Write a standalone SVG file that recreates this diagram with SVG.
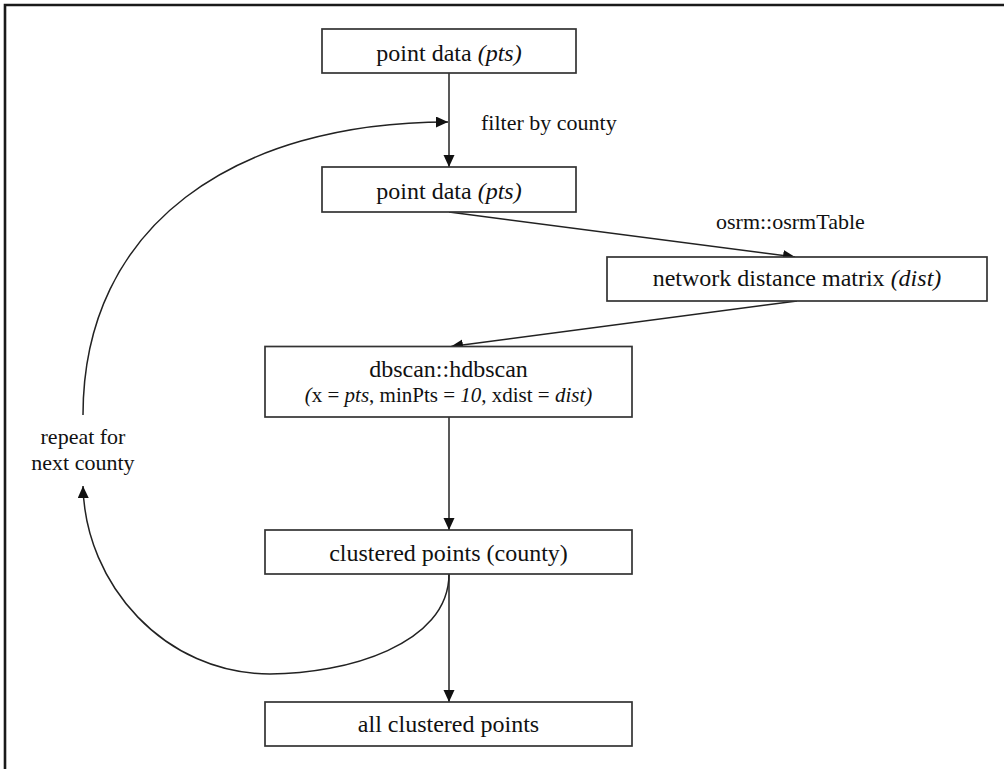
<svg xmlns="http://www.w3.org/2000/svg" width="1004" height="769" viewBox="0 0 1004 769">
<defs>
<style>
.box{fill:#fff;stroke:#333;stroke-width:1.7}
.t{font-family:"Liberation Serif","Times New Roman",serif;font-size:24px;fill:#111;text-anchor:middle}
.s{font-size:21px}
.lbl{font-family:"Liberation Serif","Times New Roman",serif;font-size:22px;fill:#111}
.i{font-style:italic}
.c{fill:none;stroke:#222;stroke-width:1.5}
</style>
<marker id="ah" markerUnits="userSpaceOnUse" markerWidth="13" markerHeight="12" refX="12" refY="5.5" orient="auto">
<path d="M0,0 L12,5.5 L0,11 z" fill="#111"/>
</marker>
</defs>
<rect width="1004" height="769" fill="#fff"/>
<polyline points="5,769 5,5 1004,5" fill="none" stroke="#1a1a1a" stroke-width="2.6"/>

<g id="connectors">
<line class="c" x1="449" y1="73" x2="449" y2="167" marker-end="url(#ah)"/>
<line class="c" x1="449" y1="212" x2="795" y2="257" marker-end="url(#ah)"/>
<line class="c" x1="797" y1="301" x2="451" y2="346.5" marker-end="url(#ah)"/>
<line class="c" x1="449" y1="417" x2="449" y2="530" marker-end="url(#ah)"/>
<line class="c" x1="449" y1="574" x2="449" y2="702" marker-end="url(#ah)"/>
<path class="c" d="M449,574 C449,645 345,674 270,674 C165,674 85,585 83,486" marker-end="url(#ah)"/>
<path class="c" d="M83,415 C83,225 235,122 448,122" marker-end="url(#ah)"/>
<text class="lbl" x="481" y="130">filter by county</text>
<text class="lbl" x="716" y="229">osrm::osrmTable</text>
<text class="lbl" x="83" y="444" text-anchor="middle">repeat for</text>
<text class="lbl" x="83" y="470" text-anchor="middle">next county</text>
</g>

<g id="n1">
<rect class="box" x="322" y="29" width="254" height="44"/>
<text class="t" x="449" y="61">point data <tspan class="i">(pts)</tspan></text>
</g>
<g id="n2">
<rect class="box" x="322" y="167" width="254" height="45"/>
<text class="t" x="449" y="199">point data <tspan class="i">(pts)</tspan></text>
</g>
<g id="n3">
<rect class="box" x="607" y="257" width="380" height="44"/>
<text class="t" x="797" y="286">network distance matrix <tspan class="i">(dist)</tspan></text>
</g>
<g id="n4">
<rect class="box" x="265" y="346.5" width="367" height="70.5"/>
<text class="t" x="448.5" y="377">dbscan::hdbscan</text>
<text class="t s" x="448.5" y="402"><tspan class="i">(</tspan>x = <tspan class="i">pts</tspan>, minPts = <tspan class="i">10</tspan>, xdist = <tspan class="i">dist)</tspan></text>
</g>
<g id="n5">
<rect class="box" x="265" y="530" width="367" height="44"/>
<text class="t" x="448.5" y="561">clustered points (county)</text>
</g>
<g id="n6">
<rect class="box" x="265" y="702" width="367" height="44"/>
<text class="t" x="448.5" y="732">all clustered points</text>
</g>
</svg>
